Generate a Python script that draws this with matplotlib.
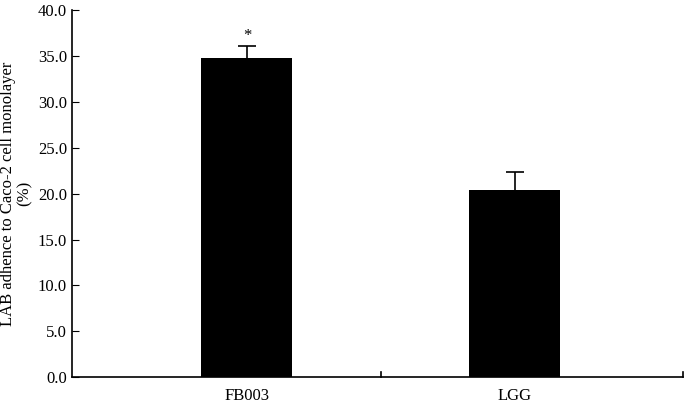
import matplotlib
matplotlib.use("Agg")
import matplotlib.pyplot as plt

categories = ["FB003", "LGG"]
values = [34.8, 20.4]
errors = [1.3, 2.0]
yticks = [0, 5, 10, 15, 20, 25, 30, 35, 40]

plt.rcParams['font.family'] = ['Liberation Serif']
fig = plt.figure(figsize=(6.85, 4.09), dpi=100)
ax = fig.add_axes([0.105, 0.078, 0.892, 0.897])
x = list(range(len(categories)))
ax.bar(x, values, width=0.34, color='black', zorder=2)
tops = [v + e for v, e in zip(values, errors)]
ax.vlines(x, values, tops, color='black', lw=1.2, zorder=3)
ax.hlines(tops, [xi - 0.035 for xi in x], [xi + 0.035 for xi in x], color='black', lw=1.2, zorder=3)
ax.text(x[0], tops[0] + 0.2, "*", ha='center', va='bottom', fontsize=12)
ax.set_xlim(-0.653, 1.627)
ax.set_ylim(0, 40)
ax.set_yticks(yticks)
ax.set_yticklabels([f"{v:.1f}" for v in yticks], fontsize=12)
ax.set_xticks(x)
ax.set_xticklabels(categories, fontsize=12)
ax.tick_params(axis='x', length=0, pad=8)
ax.tick_params(axis='y', direction='in', length=5)
for xt in [0.5, 1.627]:
    ax.plot([xt, xt], [0, 0.6], color='black', lw=1.2, clip_on=False)
ax.spines['top'].set_visible(False)
ax.spines['right'].set_visible(False)
ax.spines['left'].set_linewidth(1.2)
ax.spines['bottom'].set_linewidth(1.2)
ax.set_ylabel("LAB adhence to Caco-2 cell monolayer\n(%)", fontsize=12, linespacing=1.0, labelpad=4)
fig.savefig("out.png", dpi=100)
